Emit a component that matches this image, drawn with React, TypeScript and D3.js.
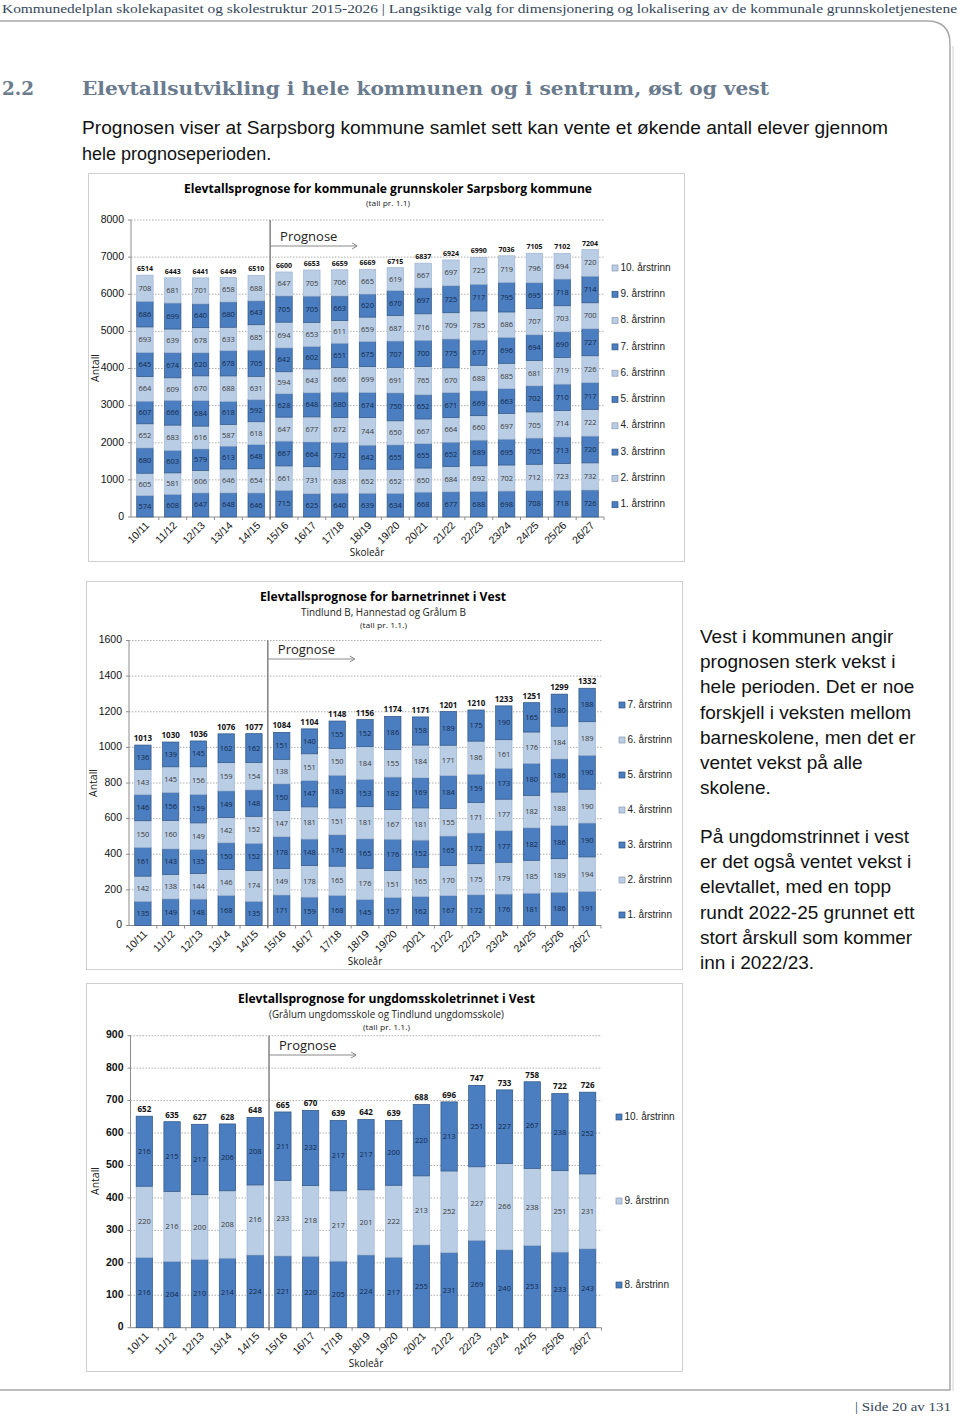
import React from 'react';
import * as d3 from 'd3';

// ---------- categories ----------
const years = ['10/11','11/12','12/13','13/14','14/15','15/16','16/17','17/18','18/19','19/20','20/21','21/22','22/23','23/24','24/25','25/26','26/27'];

// ---------- Chart 1: kommunale grunnskoler Sarpsborg (1.-10. årstrinn) ----------
const k1 = [574,608,647,648,646,715,625,640,639,634,668,677,688,698,708,718,726];
const k2 = [605,581,606,646,654,661,731,638,652,652,650,684,692,702,712,723,732];
const k3 = [680,603,579,613,648,667,664,732,642,655,655,652,689,695,705,713,720];
const k4 = [652,683,616,587,618,647,677,672,744,650,667,664,660,697,705,714,722];
const k5 = [607,666,684,618,592,628,648,680,674,750,652,671,669,663,702,710,717];
const k6 = [664,609,670,688,631,594,643,666,699,691,765,670,688,685,681,719,726];
const k7 = [645,674,620,678,705,642,602,651,675,707,700,775,677,696,694,690,727];
const k8 = [693,639,678,633,685,694,653,611,659,687,716,709,785,686,707,703,700];
const k9 = [686,699,640,680,643,705,705,663,620,670,697,725,717,795,695,718,714];
const k10 = [708,681,701,658,688,647,705,706,665,619,667,697,725,719,796,694,720];
const kTotals = [6514,6443,6441,6449,6510,6600,6653,6659,6669,6715,6837,6924,6990,7036,7105,7102,7204];

// ---------- Chart 2: barnetrinnet i Vest (1.-7. årstrinn) ----------
const b1 = [135,149,148,168,135,171,159,168,145,157,162,167,172,176,181,186,191];
const b2 = [142,138,144,146,174,149,178,165,176,151,165,170,175,179,185,189,194];
const b3 = [161,143,135,150,152,178,148,176,165,176,152,165,172,177,182,186,190];
const b4 = [150,160,149,142,152,147,181,151,181,167,181,155,171,177,182,188,190];
const b5 = [146,156,159,149,148,150,147,183,153,182,169,184,159,173,180,186,190];
const b6 = [143,145,156,159,154,138,151,150,184,155,184,171,186,161,176,184,189];
const b7 = [136,139,145,162,162,151,140,155,152,186,158,189,175,190,165,180,188];
const bTotals = [1013,1030,1036,1076,1077,1084,1104,1148,1156,1174,1171,1201,1210,1233,1251,1299,1332];

// ---------- Chart 3: ungdomsskoletrinnet i Vest (8.-10. årstrinn) ----------
const u8 = [216,204,210,214,224,221,220,205,224,217,255,231,269,240,253,233,243];
const u9 = [220,216,200,208,216,233,218,217,201,222,213,252,227,266,238,251,231];
const u10 = [216,215,217,206,208,211,232,217,217,200,220,213,251,227,267,238,252];
const uTotals = [652,635,627,628,648,665,670,639,642,639,688,696,747,733,758,722,726];

const DARK = '#4a7ec0';
const LIGHT = '#b9cde5';
const CAL = '"Open Sans", "Noto Sans", sans-serif';
const ARIAL = '"Liberation Sans", Arial, sans-serif';

type Series = { name: string; values: number[]; dark: boolean };
type Title = { text: string; cx: number; y: number; size: number; bold?: boolean; len: number };
type Cfg = {
  box: [number, number, number, number];
  titles: Title[];
  series: Series[];
  totals: number[];
  yMax: number; yStep: number; yBase: number; yTop: number;
  x0: number; x1: number; pad: number;
  gridRight: number;
  segSize: number; totSize: number; yLabelBold?: boolean;
  legendX: number; legendYs: number[];
  antall: [number, number]; skolear: [number, number];
  progY: number;
};

function StackChart({ cfg }: { cfg: Cfg }) {
  const x = d3.scaleBand<string>().domain(years).range([cfg.x0, cfg.x1]).paddingInner(cfg.pad).paddingOuter(cfg.pad / 2);
  const y = d3.scaleLinear().domain([0, cfg.yMax]).range([cfg.yBase, cfg.yTop]);
  const keys = cfg.series.map(s => s.name);
  const table = years.map((yr, i) => {
    const o: any = { year: yr };
    cfg.series.forEach(s => { o[s.name] = s.values[i]; });
    return o;
  });
  const stacked = d3.stack<any>().keys(keys)(table);
  const ticks = d3.range(0, cfg.yMax + 1, cfg.yStep);
  const bw = x.bandwidth();
  const step = x.step();
  const sepX = ((x('14/15') as number) + bw + (x('15/16') as number)) / 2;
  const [bx, by, bW, bH] = cfg.box;
  return (
    <g>
      <rect x={bx + 0.5} y={by + 0.5} width={bW} height={bH} fill="#fff" stroke="#cfcfcf" strokeWidth={1} />
      {cfg.titles.map((t, i) => (
        <text key={i} x={t.cx} y={t.y} textAnchor="middle" fontFamily={CAL} fontSize={t.size} fontWeight={t.bold ? 700 : 400}
          fill={t.bold ? '#000' : '#222'} textLength={t.len} lengthAdjust="spacingAndGlyphs" dominantBaseline="middle">{t.text}</text>
      ))}
      {ticks.map(t => (
        <g key={t}>
          {t > 0 && <line x1={cfg.x0} x2={cfg.gridRight} y1={y(t)} y2={y(t)} stroke="#9a9a9a" strokeWidth={0.8} strokeDasharray="1.5,1.5" />}
          <text x={cfg.x0 - 7} y={y(t)} textAnchor="end" dominantBaseline="middle" fontFamily={ARIAL} fontSize={10.5}
            fontWeight={cfg.yLabelBold ? 700 : 400} fill="#111">{t}</text>
          <line x1={cfg.x0 - 3} x2={cfg.x0} y1={y(t)} y2={y(t)} stroke="#8c8c8c" />
        </g>
      ))}
      <line x1={cfg.x0} x2={cfg.x0} y1={y(cfg.yMax)} y2={cfg.yBase} stroke="#8c8c8c" />
      <line x1={cfg.x0} x2={cfg.x1} y1={cfg.yBase} y2={cfg.yBase} stroke="#8c8c8c" />
      {years.map((yr, i) => (
        <line key={yr} x1={cfg.x0 + step * (i + 1)} x2={cfg.x0 + step * (i + 1)} y1={cfg.yBase} y2={cfg.yBase + 3} stroke="#8c8c8c" />
      ))}
      {stacked.map((layer, li) => {
        const s = cfg.series[li];
        return (
          <g key={layer.key}>
            {layer.map((d, i) => {
              const yr = years[i];
              const top = y(d[1]);
              const bot = y(d[0]);
              return (
                <g key={yr}>
                  <rect x={x(yr)} y={top} width={bw} height={bot - top} fill={s.dark ? DARK : LIGHT}
                    stroke={s.dark ? '#2f5482' : '#9db4d4'} strokeWidth={0.7} />
                  <text x={(x(yr) as number) + bw / 2} y={(top + bot) / 2 + 0.5} textAnchor="middle" dominantBaseline="middle"
                    fontFamily={CAL} fontSize={cfg.segSize} fill={s.dark ? '#14284a' : '#3a3a3a'}>{s.values[i]}</text>
                </g>
              );
            })}
          </g>
        );
      })}
      {years.map((yr, i) => (
        <text key={'t' + yr} x={(x(yr) as number) + bw / 2} y={y(cfg.totals[i]) - 4} textAnchor="middle" fontFamily={CAL}
          fontSize={cfg.totSize} fontWeight={700} fill="#111">{cfg.totals[i]}</text>
      ))}
      {years.map(yr => {
        const cx = (x(yr) as number) + bw / 2 + 5;
        const cy = cfg.yBase + 9;
        return (
          <text key={'x' + yr} x={cx} y={cy} textAnchor="end" transform={`rotate(-45 ${cx} ${cy})`} fontFamily={ARIAL}
            fontSize={10.5} fill="#111">{yr}</text>
        );
      })}
      <line x1={sepX} x2={sepX} y1={y(cfg.yMax)} y2={cfg.yBase + 2} stroke="#6f6f6f" strokeWidth={1.3} />
      <text x={sepX + 10} y={cfg.progY} dominantBaseline="middle" fontFamily={CAL} fontSize={13} fill="#222">Prognose</text>
      <line x1={sepX} x2={sepX + 87} y1={cfg.progY + 8} y2={cfg.progY + 8} stroke="#8a8a8a" strokeWidth={1} />
      <path d={`M${sepX + 82},${cfg.progY + 5} L${sepX + 87},${cfg.progY + 8} L${sepX + 82},${cfg.progY + 11}`} fill="none" stroke="#8a8a8a" strokeWidth={1} />
      <text transform={`translate(${cfg.antall[0]},${cfg.antall[1]}) rotate(-90)`} textAnchor="middle" dominantBaseline="middle"
        fontFamily={CAL} fontSize={10.5} fill="#111">Antall</text>
      <text x={cfg.skolear[0]} y={cfg.skolear[1]} textAnchor="middle" dominantBaseline="middle" fontFamily={CAL} fontSize={10} fill="#111">Skoleår</text>
      {cfg.series.slice().reverse().map((s, i) => (
        <g key={'l' + s.name}>
          <rect x={cfg.legendX} y={cfg.legendYs[i] - 3} width={6} height={6} fill={s.dark ? DARK : LIGHT} stroke={s.dark ? '#2f5482' : '#8a9ab0'} strokeWidth={0.7} />
          <text x={cfg.legendX + 8.5} y={cfg.legendYs[i]} dominantBaseline="middle" fontFamily={ARIAL} fontSize={10} fill="#222">{s.name}</text>
        </g>
      ))}
    </g>
  );
}

// bottom series dark, alternating upwards
const mk = (names: string[], arrs: number[][]): Series[] =>
  arrs.map((v, i) => ({ name: names[i], values: v, dark: i % 2 === 0 }));

const cfg1: Cfg = {
  box: [88, 173, 596, 388],
  titles: [
    { text: 'Elevtallsprognose for kommunale grunnskoler Sarpsborg kommune', cx: 388, y: 190, size: 13, bold: true, len: 408 },
    { text: '(tall pr. 1.1)', cx: 388, y: 204, size: 8, len: 44 },
  ],
  series: mk(['1. årstrinn','2. årstrinn','3. årstrinn','4. årstrinn','5. årstrinn','6. årstrinn','7. årstrinn','8. årstrinn','9. årstrinn','10. årstrinn'],
    [k1, k2, k3, k4, k5, k6, k7, k8, k9, k10]),
  totals: kTotals,
  yMax: 8000, yStep: 1000, yBase: 517, yTop: 220,
  x0: 131, x1: 604, pad: 0.41, gridRight: 604,
  segSize: 7.5, totSize: 7,
  legendX: 612, legendYs: [268, 294.3, 320.6, 346.9, 373.2, 399.5, 425.8, 452.1, 478.4, 504.7],
  antall: [96, 368], skolear: [367, 553], progY: 238,
};

const cfg2: Cfg = {
  box: [86, 581, 596, 388],
  titles: [
    { text: 'Elevtallsprognose for barnetrinnet i Vest', cx: 383, y: 598, size: 13, bold: true, len: 246 },
    { text: 'Tindlund B, Hannestad og Grålum B', cx: 383.5, y: 613, size: 10, len: 165 },
    { text: '(tall pr. 1.1.)', cx: 383.5, y: 626, size: 8, len: 47 },
  ],
  series: mk(['1. årstrinn','2. årstrinn','3. årstrinn','4. årstrinn','5. årstrinn','6. årstrinn','7. årstrinn'],
    [b1, b2, b3, b4, b5, b6, b7]),
  totals: bTotals,
  yMax: 1600, yStep: 200, yBase: 925.5, yTop: 640.5,
  x0: 129, x1: 601, pad: 0.41, gridRight: 602,
  segSize: 7.5, totSize: 8,
  legendX: 619, legendYs: [705, 740, 775, 810, 845, 880, 915],
  antall: [94, 783], skolear: [365, 962], progY: 651,
};

const cfg3: Cfg = {
  box: [86, 983, 596, 388],
  titles: [
    { text: 'Elevtallsprognose for ungdomsskoletrinnet i Vest', cx: 386.5, y: 1000, size: 13, bold: true, len: 297 },
    { text: '(Grålum ungdomsskole og Tindlund ungdomsskole)', cx: 386.5, y: 1015, size: 10, len: 235 },
    { text: '(tall pr. 1.1.)', cx: 386.5, y: 1028, size: 8, len: 47 },
  ],
  series: mk(['8. årstrinn','9. årstrinn','10. årstrinn'], [u8, u9, u10]),
  totals: uTotals,
  yMax: 900, yStep: 100, yBase: 1327.7, yTop: 1035.7,
  x0: 130.5, x1: 601.5, pad: 0.41, gridRight: 602,
  segSize: 7.5, totSize: 8, yLabelBold: true,
  legendX: 616, legendYs: [1117, 1201, 1285],
  antall: [96, 1181], skolear: [366, 1364], progY: 1047,
};

const rightText1 = ['Vest i kommunen angir', 'prognosen sterk vekst i', 'hele perioden. Det er noe', 'forskjell i veksten mellom', 'barneskolene, men det er', 'ventet vekst på alle', 'skolene.'];
const rightText2 = ['På ungdomstrinnet i vest', 'er det også ventet vekst i', 'elevtallet, med en topp', 'rundt 2022-25 grunnet ett', 'stort årskull som kommer', 'inn i 2022/23.'];

export default function App() {
  return (
    <svg width={960} height={1420} style={{ position: 'absolute', left: 0, top: 0, background: '#fff' }}>
      <rect x={0} y={0} width={960} height={1420} fill="#fff" />
      <text x={2} y={13} fontFamily='"Liberation Serif", serif' fontSize={13.5} fill="#34465a" textLength={955} lengthAdjust="spacingAndGlyphs">
        Kommunedelplan skolekapasitet og skolestruktur 2015-2026 | Langsiktige valg for dimensjonering og lokalisering av de kommunale grunnskoletjenestene
      </text>
      <path d="M0,21 H927 Q950,21 950,44 V1390 H0" fill="none" stroke="#a8a8a8" strokeWidth={1.5} />
      <line x1={953} x2={953} y1={46} y2={1391} stroke="#d0d0d0" strokeWidth={1} />
      <text x={2} y={95} fontFamily='"DejaVu Serif", serif' fontWeight={700} fontSize={19} fill="#6a7b8e" textLength={32} lengthAdjust="spacingAndGlyphs">2.2</text>
      <text x={82} y={95} fontFamily='"DejaVu Serif", serif' fontWeight={700} fontSize={19} fill="#6a7b8e" textLength={687} lengthAdjust="spacingAndGlyphs">
        Elevtallsutvikling i hele kommunen og i sentrum, øst og vest
      </text>
      <text x={82} y={134} fontFamily={ARIAL} fontSize={18} fill="#111" textLength={806} lengthAdjust="spacingAndGlyphs">
        Prognosen viser at Sarpsborg kommune samlet sett kan vente et økende antall elever gjennom
      </text>
      <text x={82} y={160} fontFamily={ARIAL} fontSize={18} fill="#111">hele prognoseperioden.</text>

      <StackChart cfg={cfg1} />
      <StackChart cfg={cfg2} />
      <StackChart cfg={cfg3} />

      {rightText1.map((t, i) => (
        <text key={'r1' + i} x={700} y={643 + i * 25.2} fontFamily={ARIAL} fontSize={19} fill="#111">{t}</text>
      ))}
      {rightText2.map((t, i) => (
        <text key={'r2' + i} x={700} y={843 + i * 25.2} fontFamily={ARIAL} fontSize={19} fill="#111">{t}</text>
      ))}

      <text x={855} y={1411} fontFamily='"Liberation Serif", serif' fontSize={13} fill="#34465a" textLength={96} lengthAdjust="spacingAndGlyphs">| Side 20 av 131</text>
    </svg>
  );
}
